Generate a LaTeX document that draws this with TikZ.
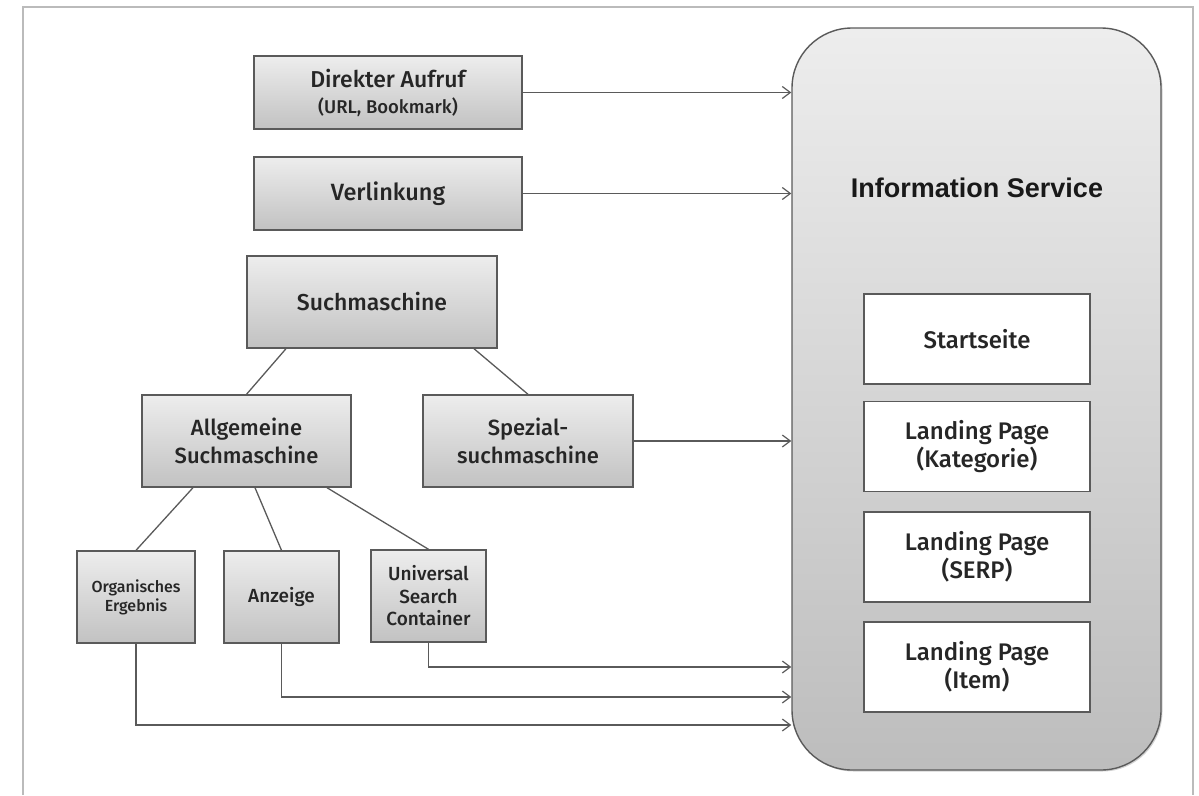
\documentclass[tikz,border=0pt]{standalone}
\usepackage{fontspec}
\setmainfont{Fira Sans Medium}
\newfontfamily\infofont{Liberation Sans}
\usetikzlibrary{arrows.meta,shadows}
\definecolor{edgecol}{HTML}{5A5A5A}
\definecolor{framecol}{HTML}{BBBBBB}
\definecolor{txtcol}{HTML}{262626}
\tikzset{
  grbox/.style={draw=edgecol, line width=1.4pt, top color=black!7, bottom color=black!24,
    minimum width=#1, inner sep=0pt, align=center, text=txtcol,
    drop shadow={shadow xshift=1.2pt, shadow yshift=-1.2pt, opacity=0.35}},
  whbox/.style={draw=edgecol, line width=1.4pt, fill=white, minimum width=226pt,
    minimum height=90pt, inner sep=0pt, align=center, text=txtcol, font=\fontsize{24}{28}\selectfont},
  arr/.style={draw=edgecol, line width=1.3pt, -{Straight Barb[length=8pt,width=12pt,line width=1.2pt]}},
  conn/.style={draw=edgecol, line width=1.3pt},
}
\begin{document}
\begin{tikzpicture}[x=1pt,y=-1pt]
\useasboundingbox (0,0) rectangle (1199,795);
\draw[framecol, line width=2pt] (23,795) -- (23,7) -- (1193,7) -- (1193,795);

% big container
\node[draw=edgecol, line width=1.4pt, rounded corners=60pt, top color=black!7, bottom color=black!26,
  minimum width=369pt, minimum height=742pt, inner sep=0pt,
  drop shadow={shadow xshift=1.5pt, shadow yshift=-1.5pt, opacity=0.35}] (info) at (976.5,399) {};
\node[font=\infofont\bfseries\fontsize{27}{32}\selectfont, text=black!90] (infot) at (977,188) {Information Service};

\node[whbox] (start) at (977,339) {Startseite};
\node[whbox] (kat) at (977,446.5) {Landing Page\\(Kategorie)};
\node[whbox] (serp) at (977,557) {Landing Page\\(SERP)};
\node[whbox] (item) at (977,667) {Landing Page\\(Item)};

% left boxes
\node[grbox=268pt, minimum height=73pt, font=\fontsize{23}{26}\selectfont] (dir) at (388,92.5)
  {Direkter Aufruf\\{\fontsize{18.5}{20}\selectfont (URL, Bookmark)}};
\node[grbox=268pt, minimum height=73pt, font=\fontsize{23.5}{28}\selectfont] (verl) at (388,193.5) {Verlinkung};
\node[grbox=250pt, minimum height=92pt, font=\fontsize{23}{28}\selectfont] (such) at (372,302) {Suchmaschine};
\node[grbox=209pt, minimum height=92pt, font=\fontsize{22}{28}\selectfont] (allg) at (246.5,441) {Allgemeine\\Suchmaschine};
\node[grbox=210pt, minimum height=92pt, font=\fontsize{22}{28}\selectfont] (spez) at (528,441) {Spezial-\\suchmaschine};
\node[grbox=118pt, minimum height=92pt, font=\fontsize{16}{19}\selectfont] (org) at (136,597) {Organisches\\Ergebnis};
\node[grbox=115pt, minimum height=92pt, font=\fontsize{19}{23}\selectfont] (anz) at (281.5,597) {Anzeige};
\node[grbox=115pt, minimum height=92pt, font=\fontsize{19}{22.5}\selectfont] (uni) at (428.5,596) {Universal\\Search\\Container};

% tree lines
\draw[conn] ([xshift=-86pt]such.south) -- (allg.north);
\draw[conn] ([xshift=102pt]such.south) -- (spez.north);
\draw[conn] ([xshift=-53.5pt]allg.south) -- (org.north);
\draw[conn] ([xshift=8.5pt]allg.south) -- (anz.north);
\draw[conn] ([xshift=80.5pt]allg.south) -- (uni.north);

% arrows into the service
\draw[arr] (dir.east) -- (dir.east -| info.west);
\draw[arr] (verl.east) -- (verl.east -| info.west);
\draw[arr] (spez.east) -- (spez.east -| info.west);
\draw[arr] (uni.south) |- ([yshift=-268pt]info.west);
\draw[arr] (anz.south) |- ([yshift=-298pt]info.west);
\draw[arr] (org.south) |- ([yshift=-326pt]info.west);
\end{tikzpicture}
\end{document}
